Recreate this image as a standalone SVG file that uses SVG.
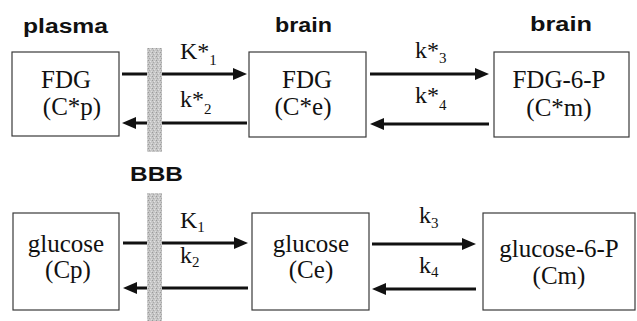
<svg xmlns="http://www.w3.org/2000/svg" width="637" height="321" viewBox="0 0 637 321">
  <style>
    .box { fill: #ffffff; stroke: #3a3a3a; stroke-width: 1.2; }
    .hdr { font-family: "Liberation Sans", Arial, sans-serif; font-weight: bold; font-size: 20px; fill: #111; }
    .txt { font-family: "Liberation Serif", "Times New Roman", serif; font-size: 25px; fill: #111; text-anchor: middle; }
    .lbl { font-family: "Liberation Serif", "Times New Roman", serif; font-size: 24px; fill: #111; }
    .sub { font-size: 15px; }
    .arr { fill: none; stroke: #111; stroke-width: 3; marker-end: url(#ah); }
    .bbb { fill: url(#stip); }
  </style>
  <defs>
    <marker id="ah" viewBox="0 0 14 12" refX="8" refY="6" markerWidth="14" markerHeight="12" markerUnits="userSpaceOnUse" orient="auto">
      <path d="M0,0 L14,6 L0,12 z" fill="#111"/>
    </marker>
    <pattern id="stip" width="4" height="4" patternUnits="userSpaceOnUse">
      <rect width="4" height="4" fill="#c6c6c6"/>
      <rect x="0" y="0" width="1" height="1" fill="#9a9a9a"/>
      <rect x="2" y="1" width="1" height="1" fill="#e2e2e2"/>
      <rect x="1" y="2" width="1" height="1" fill="#a8a8a8"/>
      <rect x="3" y="3" width="1" height="1" fill="#dcdcdc"/>
    </pattern>
  </defs>

  <!-- headers -->
  <text class="hdr" x="23" y="33" textLength="85" lengthAdjust="spacingAndGlyphs">plasma</text>
  <text class="hdr" x="275" y="32" textLength="57" lengthAdjust="spacingAndGlyphs">brain</text>
  <text class="hdr" x="530" y="31" textLength="62" lengthAdjust="spacingAndGlyphs">brain</text>
  <text class="hdr" x="130" y="181" textLength="53" lengthAdjust="spacingAndGlyphs">BBB</text>

  <!-- BBB barrier -->
  <rect class="bbb" x="147" y="48" width="15" height="104"/>
  <rect class="bbb" x="147" y="193" width="15" height="128"/>

  <!-- connectors -->
  <g id="connectors">
    <path class="arr" d="M122,74 H241"/>
    <path class="arr" d="M247,123 H128"/>
    <path class="arr" d="M370,74 H483"/>
    <path class="arr" d="M489,124 H376"/>
    <path class="arr" d="M123,243 H242"/>
    <path class="arr" d="M248,288 H129"/>
    <path class="arr" d="M372,244 H470"/>
    <path class="arr" d="M476,289 H378"/>
    <!-- redraw barrier over arrows -->
    <rect class="bbb" x="147" y="48" width="15" height="104"/>
    <rect class="bbb" x="147" y="193" width="15" height="128"/>
    <text class="lbl" x="180" y="59">K*<tspan class="sub" dy="6">1</tspan></text>
    <text class="lbl" x="180" y="107">k*<tspan class="sub" dy="7">2</tspan></text>
    <text class="lbl" x="415" y="58">k*<tspan class="sub" dy="5">3</tspan></text>
    <text class="lbl" x="415" y="103">k*<tspan class="sub" dy="7">4</tspan></text>
    <text class="lbl" x="180" y="228">K<tspan class="sub" dy="4">1</tspan></text>
    <text class="lbl" x="180" y="263">k<tspan class="sub" dy="4">2</tspan></text>
    <text class="lbl" x="419" y="223">k<tspan class="sub" dy="5">3</tspan></text>
    <text class="lbl" x="419" y="273">k<tspan class="sub" dy="4">4</tspan></text>
  </g>

  <!-- nodes -->
  <g id="node-fdg-plasma">
    <rect class="box" x="12" y="52" width="107" height="84"/>
    <text class="txt" x="66" y="88">FDG</text>
    <text class="txt" x="72" y="115">(C*p)</text>
  </g>
  <g id="node-fdg-brain">
    <rect class="box" x="249" y="52" width="117" height="85"/>
    <text class="txt" x="307" y="88">FDG</text>
    <text class="txt" x="303" y="115">(C*e)</text>
  </g>
  <g id="node-fdg6p">
    <rect class="box" x="494" y="52" width="135" height="85"/>
    <text class="txt" x="559" y="88">FDG-6-P</text>
    <text class="txt" x="559" y="116">(C*m)</text>
  </g>
  <g id="node-glucose-plasma">
    <rect class="box" x="13" y="213" width="106" height="97"/>
    <text class="txt" x="66" y="252">glucose</text>
    <text class="txt" x="68" y="278">(Cp)</text>
  </g>
  <g id="node-glucose-brain">
    <rect class="box" x="252" y="213" width="117" height="97"/>
    <text class="txt" x="311" y="252">glucose</text>
    <text class="txt" x="311" y="278">(Ce)</text>
  </g>
  <g id="node-glucose6p">
    <rect class="box" x="483" y="213" width="152" height="97"/>
    <text class="txt" x="559" y="257">glucose-6-P</text>
    <text class="txt" x="559" y="284">(Cm)</text>
  </g>
</svg>
